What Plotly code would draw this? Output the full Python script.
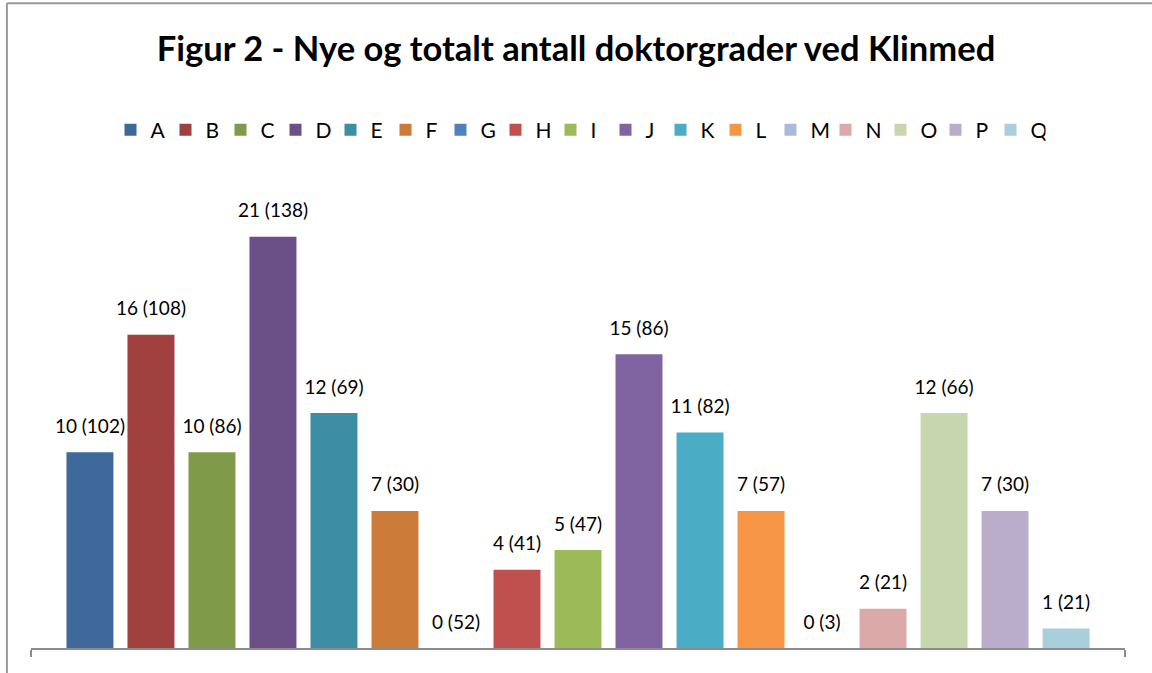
import plotly.graph_objects as go

# series names, new doctorates (bar height) and total doctorates (in label)
names = ["A", "B", "C", "D", "E", "F", "G", "H", "I", "J", "K", "L", "M", "N", "O", "P", "Q"]
new_degrees = [10, 16, 10, 21, 12, 7, 0, 4, 5, 15, 11, 7, 0, 2, 12, 7, 1]
total_degrees = [102, 108, 86, 138, 69, 30, 52, 41, 47, 86, 82, 57, 3, 21, 66, 30, 21]
colors = ["#3F699B", "#A0403F", "#7F9A48", "#6A5087", "#3D8DA4", "#CC7B38",
          "#4F81BD", "#C0504D", "#9BBB59", "#8064A2", "#4BACC6", "#F79646",
          "#A9BADA", "#DBA9A8", "#C7D6AD", "#B9ADCB", "#A9CEDC"]

FONT = "Lato"

fig = go.Figure()
for name, new, col in zip(names, new_degrees, colors):
    fig.add_trace(go.Bar(x=["Klinmed"], y=[new], name=name, offsetgroup=name,
                         marker=dict(color=col, line=dict(width=0))))

# value labels as grouped text markers so they sit a bit above each bar
for name, new, total in zip(names, new_degrees, total_degrees):
    fig.add_trace(go.Scatter(x=["Klinmed"], y=[new], offsetgroup=name,
                             mode="markers+text", text=[f"{new} ({total})"],
                             textposition="top center",
                             textfont=dict(size=19, color="#000000", family=FONT),
                             marker=dict(size=22, opacity=0),
                             showlegend=False, hoverinfo="skip", cliponaxis=False))

fig.update_layout(
    title=dict(text="<b>Figur 2 - Nye og totalt antall doktorgrader ved Klinmed</b>",
               x=0.5, xanchor="center", y=0.928, yanchor="middle",
               font=dict(size=34.5, family=FONT, color="#000000")),
    barmode="group",
    scattermode="group",
    bargap=0.052,
    bargroupgap=0.23,
    width=1152,
    height=673,
    margin=dict(l=31, r=27, t=178, b=25),
    plot_bgcolor="white",
    paper_bgcolor="white",
    font=dict(family=FONT, size=21, color="#000000"),
    legend=dict(orientation="h", x=0.5, xanchor="center", y=1.102, yanchor="middle",
                font=dict(size=21, family=FONT), entrywidth=10,
                traceorder="normal"),
    showlegend=True,
)
fig.update_xaxes(type="category", showline=True, linecolor="#8C8C8C", linewidth=2,
                 ticks="outside", tickson="boundaries", ticklen=7,
                 tickcolor="#8C8C8C", tickwidth=2, showticklabels=False,
                 showgrid=False)
fig.update_yaxes(range=[0, 24], visible=False, showgrid=False)

# chart area border (left and top edges visible in the crop)
fig.add_shape(type="line", xref="paper", yref="paper",
              x0=-0.022, x1=1.03, y0=1.372, y1=1.372,
              line=dict(color="#9A9A9A", width=2))
fig.add_shape(type="line", xref="paper", yref="paper",
              x0=-0.022, x1=-0.022, y0=1.372, y1=-0.1,
              line=dict(color="#9A9A9A", width=2))

fig.write_html("out.html", config={"displayModeBar": False},
               post_script="document.body.style.margin='0';")
